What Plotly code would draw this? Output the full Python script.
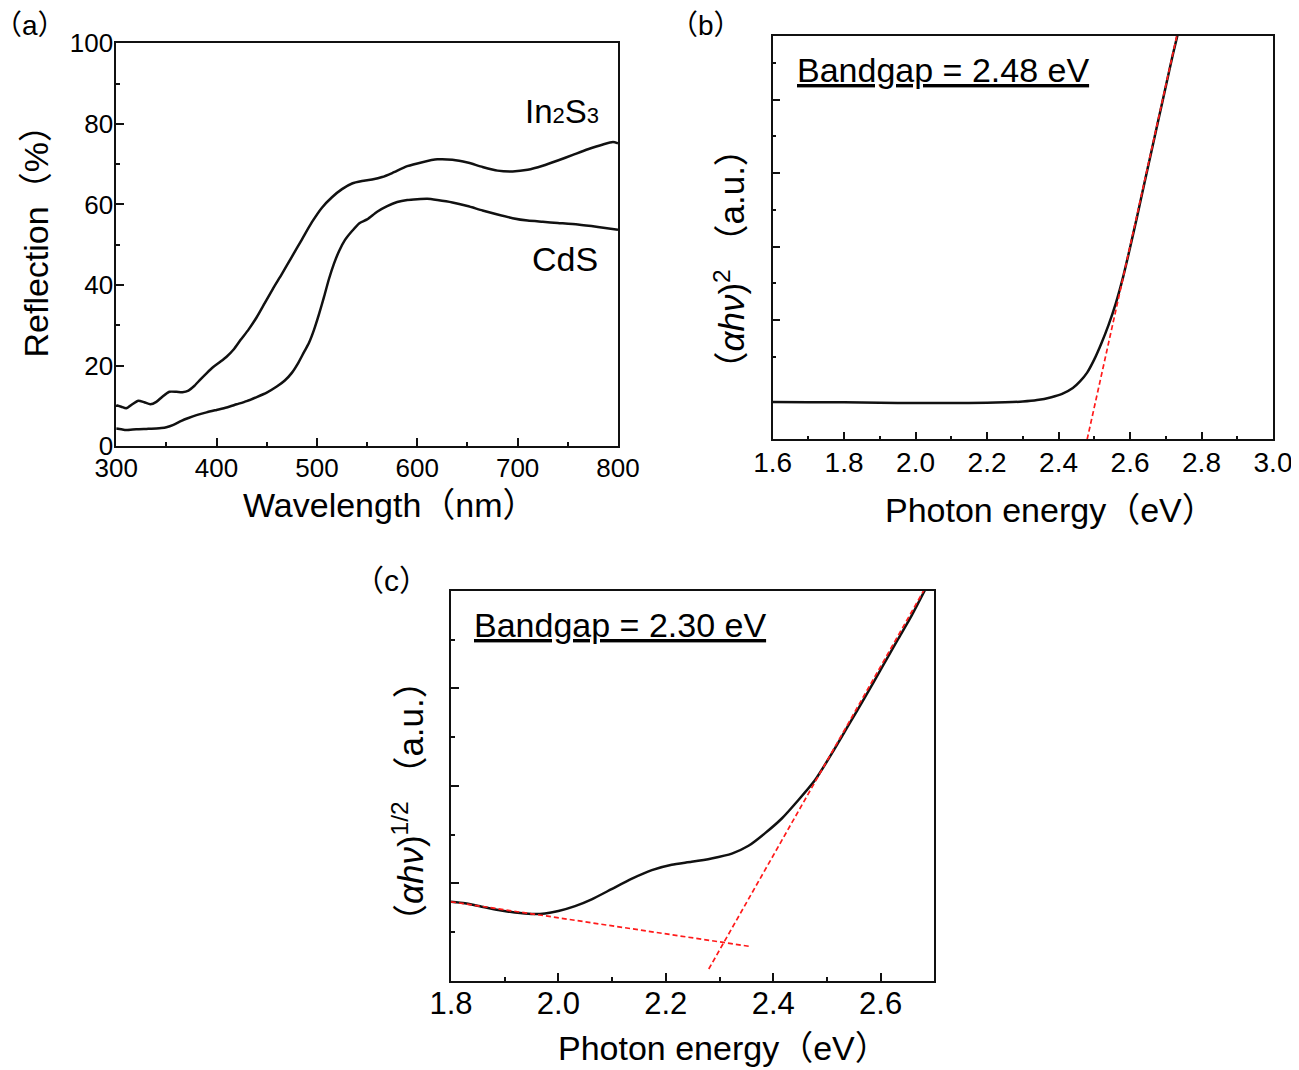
import plotly.graph_objects as go

# ---------------- data ----------------
# (a) reflection spectra
wl_in2s3 = [300, 305, 310, 316, 322, 328, 334, 340, 346, 353, 360, 366, 372, 378, 384, 390, 397, 404, 410, 417,
            424, 432, 440, 448, 456, 465, 475, 485, 495, 505, 515, 525, 535, 545, 555, 565, 575, 590, 605, 620,
            635, 650, 665, 680, 695, 710, 725, 740, 755, 770, 785, 795, 800]
r_in2s3 = [10.2, 9.8, 9.4, 10.4, 11.3, 10.9, 10.4, 11.0, 12.3, 13.5, 13.5, 13.4, 13.8, 15.0, 16.6, 18.1, 19.7, 21.0,
           22.2, 24.0, 26.4, 29.0, 32.0, 35.5, 39.0, 42.7, 47.0, 51.3, 55.6, 59.2, 61.8, 63.8, 65.2, 65.8, 66.2,
           66.8, 67.8, 69.5, 70.5, 71.2, 71.1, 70.4, 69.3, 68.4, 68.2, 68.6, 69.6, 70.9, 72.3, 73.7, 74.9, 75.5, 75.2]

wl_cds = [300, 305, 310, 320, 330, 340, 345, 350, 357, 365, 372, 380, 390, 400, 410, 420, 430, 440, 450, 460,
          468, 475, 481, 487, 492, 497, 502, 507, 512, 517, 522, 528, 535, 542, 550, 560, 570, 580, 590, 600,
          610, 620, 635, 650, 665, 680, 695, 710, 725, 740, 760, 780, 800]
r_cds = [4.4, 4.2, 4.0, 4.2, 4.3, 4.4, 4.5, 4.7, 5.3, 6.3, 7.0, 7.7, 8.4, 9.0, 9.6, 10.4, 11.2, 12.2, 13.3, 14.8,
         16.3, 18.2, 20.5, 23.3, 25.6, 28.8, 32.7, 37.0, 41.5, 45.3, 48.4, 51.2, 53.4, 55.3, 56.3, 58.2, 59.6,
         60.6, 61.1, 61.3, 61.4, 61.1, 60.5, 59.6, 58.5, 57.5, 56.6, 56.0, 55.7, 55.4, 55.0, 54.4, 53.7]

# (b) (alpha h nu)^2 vs photon energy (arbitrary units)
e_b = [1.60, 1.70, 1.80, 1.90, 2.00, 2.10, 2.20, 2.25, 2.30, 2.34, 2.38, 2.41, 2.44, 2.46, 2.48, 2.50, 2.52,
       2.54, 2.56, 2.58, 2.60, 2.62, 2.64, 2.66, 2.68, 2.70, 2.72, 2.735]
a_b = [1.02, 1.01, 1.01, 1.00, 0.99, 0.99, 1.00, 1.01, 1.03, 1.07, 1.15, 1.24, 1.40, 1.58, 1.82, 2.18, 2.62,
       3.12, 3.70, 4.40, 5.22, 6.08, 6.97, 7.85, 8.73, 9.61, 10.49, 11.10]
fit_b_x = [2.48, 2.735]
fit_b_y = [0.0, 11.17]
ticks_b_major = [3.25, 5.25, 7.25, 9.25]
ticks_b_minor = [2.25, 4.25, 6.25, 8.25, 10.25]

# (c) (alpha h nu)^1/2 vs photon energy (arbitrary units)
e_c = [1.800, 1.826, 1.857, 1.888, 1.919, 1.950, 1.975, 2.000, 2.031, 2.062, 2.099, 2.136, 2.174, 2.211, 2.248,
       2.285, 2.323, 2.354, 2.385, 2.416, 2.447, 2.478, 2.509, 2.540, 2.571, 2.602, 2.633, 2.658, 2.684]
a_c = [1.62, 1.59, 1.52, 1.45, 1.40, 1.37, 1.38, 1.43, 1.53, 1.67, 1.88, 2.09, 2.27, 2.38, 2.44, 2.51, 2.61,
       2.77, 3.03, 3.33, 3.71, 4.12, 4.66, 5.24, 5.82, 6.42, 7.02, 7.50, 8.05]
fit_c1_x = [2.28, 2.684]
fit_c1_y = [0.24, 8.08]
fit_c2_x = [1.80, 2.359]
fit_c2_y = [1.62, 0.70]
ticks_c_major = [2, 4, 6]
ticks_c_minor = [1, 3, 5, 7]

# ---------------- style ----------------
FONT = "Arial, 'Liberation Sans', 'Noto Sans CJK SC', sans-serif"
OFF = 8                      # page body margin of the html page
W, H = 1299 - OFF, 1070 - OFF
BLACK = "#111111"
RED = "#ff1a1a"


def px(x):
    return (x - OFF) / W


def py(y):
    return 1 - (y - OFF) / H


def minor(**kw):
    d = dict(ticks="inside", ticklen=4, tickwidth=1.5, tickcolor=BLACK, showgrid=False)
    d.update(kw)
    return d


def axis(domain, rng, size, **kw):
    d = dict(domain=domain, range=rng, showline=True, linecolor=BLACK, linewidth=1.6, mirror=True,
             ticks="inside", ticklen=8, tickwidth=1.5, tickcolor=BLACK, showgrid=False, zeroline=False,
             automargin=False,
             tickfont=dict(family=FONT, size=size, color="black"))
    d.update(kw)
    return d


fig = go.Figure()
line_k = dict(color=BLACK, width=2.5, shape="spline", smoothing=0.6)
dash_r = dict(color=RED, width=1.7, dash="5px,3px")

fig.add_trace(go.Scatter(x=wl_in2s3, y=r_in2s3, mode="lines", line=line_k, xaxis="x", yaxis="y"))
fig.add_trace(go.Scatter(x=wl_cds, y=r_cds, mode="lines", line=line_k, xaxis="x", yaxis="y"))

fig.add_trace(go.Scatter(x=e_b, y=a_b, mode="lines", line=line_k, xaxis="x2", yaxis="y2"))
fig.add_trace(go.Scatter(x=fit_b_x, y=fit_b_y, mode="lines", line=dash_r, xaxis="x2", yaxis="y2"))

fig.add_trace(go.Scatter(x=e_c, y=a_c, mode="lines", line=line_k, xaxis="x3", yaxis="y3"))
fig.add_trace(go.Scatter(x=fit_c1_x, y=fit_c1_y, mode="lines", line=dash_r, xaxis="x3", yaxis="y3"))
fig.add_trace(go.Scatter(x=fit_c2_x, y=fit_c2_y, mode="lines", line=dash_r, xaxis="x3", yaxis="y3"))

layout = dict(
    template="none",
    width=W, height=H, margin=dict(l=0, r=0, t=0, b=0, pad=0),
    paper_bgcolor="white", plot_bgcolor="white", showlegend=False,
    xaxis=axis([px(116.2), px(618)], [300, 800], 26, anchor="y", dtick=100, tick0=300,
               minor=minor(dtick=50), ticklabelstandoff=-2),
    yaxis=axis([py(446.2), py(43.3)], [0, 100], 26, anchor="x", dtick=20, tick0=0,
               minor=minor(dtick=10), ticklabelstandoff=-4),
    xaxis2=axis([px(772.6), px(1273)], [1.6, 3.0], 28, anchor="y2", dtick=0.2, tick0=1.6, tickformat=".1f",
                minor=minor(dtick=0.1), ticklabelstandoff=-3),
    yaxis2=axis([py(439.4), py(35.5)], [0, 11], 26, anchor="x2", tickmode="array", tickvals=ticks_b_major,
                showticklabels=False, minor=minor(tickvals=ticks_b_minor)),
    xaxis3=axis([px(451), px(934.3)], [1.8, 2.7], 31, anchor="y3", dtick=0.2, tick0=1.8, tickformat=".1f",
                minor=minor(dtick=0.1), ticklabelstandoff=-6),
    yaxis3=axis([py(980.7), py(591)], [0, 8], 26, anchor="x3", tickmode="array", tickvals=ticks_c_major,
                showticklabels=False, minor=minor(tickvals=ticks_c_minor)),
)
fig.update_layout(**layout)


def ann(text, x, y, size, xanchor="center", yanchor="middle", angle=0):
    fig.add_annotation(text=text, x=px(x), y=py(y), xref="paper", yref="paper", showarrow=False,
                       xanchor=xanchor, yanchor=yanchor, textangle=angle,
                       font=dict(family=FONT, size=size, color="black"))


# panel labels
ann("（a）", 30, 25, 28)
ann("（b）", 706, 25, 28)
ann("（c）", 392, 580, 30)

# axis titles
ann("Wavelength（nm）", 241, 505, 34, xanchor="left")
ann("Reflection（%）", 35, 360, 34, yanchor="bottom", angle=-90)
ann("Photon energy（eV）", 883, 510, 34, xanchor="left")
ann("（<i>αhν</i>)<sup>2</sup> （a.u.）", 729, 389, 35, yanchor="bottom", angle=-90)
ann("Photon energy（eV）", 556, 1048, 34, xanchor="left")
ann("（<i>αhν</i>)<sup>1/2</sup> （a.u.）", 408, 941, 35, yanchor="bottom", angle=-90)

# in-plot labels
ann("In<span style='font-size:22px'>2</span>S<span style='font-size:22px'>3</span>", 561.6, 111, 33)
ann("CdS", 565, 259, 34)
ann("<u>Bandgap = 2.48 eV</u>", 795.4, 70, 34, xanchor="left")
ann("<u>Bandgap = 2.30 eV</u>", 472.3, 625, 34, xanchor="left")

fig.write_html("out.html")
